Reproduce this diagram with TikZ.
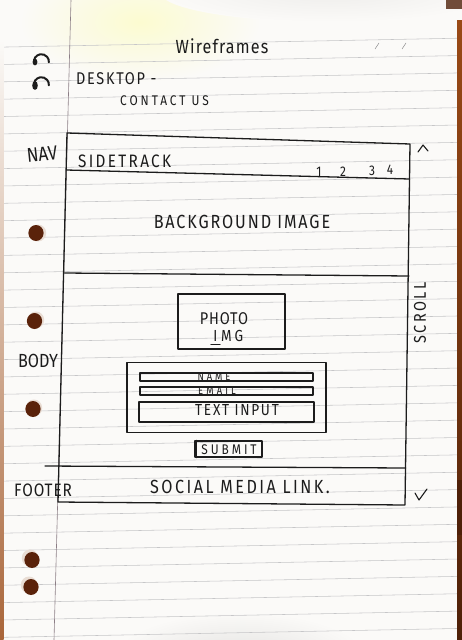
\documentclass[tikz,border=0pt]{standalone}
\usepackage{fontspec}
\setmainfont{Fira Sans}[FakeStretch=0.85]
\newcommand\handset[2]{\fontsize{#1}{#1}\selectfont\addfontfeature{LetterSpace=#2}}

\definecolor{paper}{HTML}{FBFAF8}
\definecolor{rulecol}{HTML}{C6C6C8}
\definecolor{margincol}{HTML}{8C7E86}
\definecolor{ink}{HTML}{1C1C1C}
\definecolor{wood}{HTML}{9A4A16}
\definecolor{woodD}{HTML}{4E2008}
\definecolor{holecol}{HTML}{5A220A}
\definecolor{holelight}{HTML}{E9DDD4}

\begin{document}
\begin{tikzpicture}[x=1pt,y=-1pt,
  pen/.style={draw=ink, line width=1.3pt, line join=round, line cap=round},
  field/.style={pen, rectangle, inner sep=0pt},
  txt/.style={text=ink, inner sep=0pt},
]
\useasboundingbox (0,0) rectangle (462,640);

\begin{scope}
\clip (0,0) rectangle (462,640);
% sheet of paper with light patches
\fill[paper] (0,0) rectangle (462,640);
\shade[inner color=yellow!16!paper, outer color=paper] (140,22) ellipse (120 and 60);
\shade[inner color=black!5!paper, outer color=paper] (330,-8) ellipse (170 and 30);
\shade[inner color=black!10!paper, outer color=paper] (240,662) ellipse (130 and 50);

% ruled lines and margin
\foreach \k in {-1,...,33}{
  \draw[rulecol, line width=0.55pt] (0,{64.5+17.36*\k}) -- (462,{55.5+17.36*\k});
}
\draw[margincol, line width=0.6pt] (71,0) -- (54,640);

% table showing at the edges
\shade[top color=paper, bottom color=wood!85] (0,40) rectangle (3.5,640);
\shade[top color=wood, bottom color=woodD] (457,20) rectangle (462,640);
\fill[woodD] (457,480) rectangle (462,535);
\fill[woodD!80] (446,0) rectangle (462,9);

% punched holes
\draw[ink, line width=2pt, line cap=round] (34,63) arc[start angle=170, end angle=365, radius=7.5];
\fill[ink] (35,62) ellipse (2.4 and 3.4);
\draw[ink, line width=2pt, line cap=round] (34,86) arc[start angle=170, end angle=365, radius=7.5];
\fill[ink] (35,85.5) ellipse (2.8 and 4.4);
\foreach \hx/\hy/\dx/\dy in {38/233/2/0, 36/320/1.5/-1, 34/408/1/-1, 30/558/-2/-2, 29/585/-2/-2}{
  \fill[holelight] (\hx,\hy) ellipse (8.2 and 8.5);
  \fill[holecol] ({\hx-\dx},{\hy-\dy}) ellipse (7.6 and 8);
}

% little marks in the header
\draw[rulecol!70!black, line width=0.5pt] (375,49) -- (379,43);
\draw[rulecol!70!black, line width=0.5pt] (402,49) -- (406,43);
\end{scope}

% heading
\node[txt, font=\handset{19}{6}] (title) at (222,46) {Wireframes};
\node[txt, anchor=west, font=\handset{17}{10}] (desktop) at (76,79) {DESKTOP -};
\node[txt, anchor=west, font=\handset{14}{21}] (contact) at (120,101) {CONTACT US};

% page frame and its sections
\coordinate (tl) at (67,133);
\coordinate (tr) at (410,144);
\coordinate (br) at (405,505);
\coordinate (bl) at (58,502);
\draw[pen] (tl) -- (tr) -- (br) -- (bl) -- cycle;
\coordinate (navL) at (66.5,170);
\coordinate (navR) at (409.6,179);
\coordinate (bgL) at (64.5,273);
\coordinate (bgR) at (409,276);
\coordinate (ftL) at (45,466);
\coordinate (ftR) at (405.8,468);
\draw[pen] (navL) -- (navR);
\draw[pen] (bgL) -- (bgR);
\draw[pen] (ftL) -- (ftR);

% side labels
\node[txt, rotate=6, font=\handset{20}{0}] (nav) at (42,154) {NAV};
\node[txt, font=\handset{19}{0}] (body) at (38,361) {BODY};
\node[txt, font=\handset{18}{5}] (footer) at (43,490) {FOOTER};

% navigation bar
\node[txt, anchor=west, font=\handset{18}{13}] (brand) at (78,161) {SIDETRACK};
\node[txt, font=\handset{14}{0}] (n1) at (319,172) {1};
\node[txt, font=\handset{14}{0}] (n2) at (343,172) {2};
\node[txt, font=\handset{14}{0}] (n3) at (372,171) {3};
\node[txt, font=\handset{14}{0}] (n4) at (390,170) {4};

% hero
\node[txt, font=\handset{19}{10}] (bg) at (242,222) {BACKGROUND IMAGE};

% scroll bar marks
\draw[pen, line width=1.1pt] (418,152) -- (423,145) -- (428,151);
\node[txt, rotate=90, font=\handset{17}{14}] (scroll) at (420,313) {SCROLL};
\draw[pen, line width=1.1pt] (415,493) -- (419,500) -- (427,489);

% body content
\node[field, minimum width=107pt, minimum height=55pt] (photo) at (231.5,321.5) {};
\node[txt, font=\handset{17}{5}] (photoT) at (224,319) {PHOTO};
\node[txt, font=\handset{16}{0}] (imgI) at (215.5,336) {I};
\node[txt, anchor=west, font=\handset{16}{18}] (imgMG) at (221,336) {MG};
\draw[pen, line width=1pt] ([xshift=-2.5pt, yshift=-2.5pt]imgI.south west) -- ([xshift=2.5pt, yshift=-2.5pt]imgI.south east);

\node[field, minimum width=199pt, minimum height=70pt] (form) at (226.5,397.5) {};
\node[field, line width=1.1pt, minimum width=173pt, minimum height=8pt] (name) at (226.5,377) {};
\node[txt, font=\handset{11}{27}] (nameT) at (214,376.5) {NAME};
\node[field, line width=1.1pt, minimum width=173pt, minimum height=8pt] (email) at (226.5,391) {};
\node[txt, font=\handset{11}{29}] (emailT) at (217,390.5) {EMAIL};
\node[field, minimum width=175pt, minimum height=20pt] (textin) at (226.5,412) {};
\node[txt, font=\handset{16}{11}] (textinT) at (237,410.5) {TEXT INPUT};

\node[field, minimum width=67pt, minimum height=16pt] (submit) at (228.5,449) {};
\draw[pen] ([xshift=2.2pt]submit.north west) -- ([xshift=2.2pt]submit.south west);
\node[txt, font=\handset{14}{21}] (submitT) at (229,449.5) {SUBMIT};

% footer
\node[txt, font=\handset{19}{13}] (social) at (240,487) {SOCIAL MEDIA LINK.};
\end{tikzpicture}
\end{document}
